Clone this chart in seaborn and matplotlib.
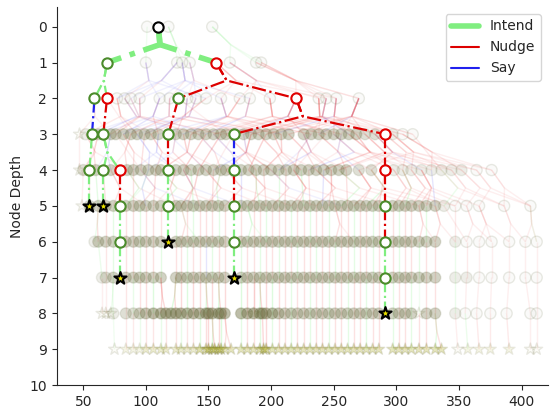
import numpy as np
import pandas as pd
import matplotlib
matplotlib.use('Agg')
import matplotlib.pyplot as plt
from matplotlib.lines import Line2D
import seaborn as sns

# ---- highlighted search paths (x position, depth, node kind, parent index, action of the edge) ----
hl_x = [110, 69, 156, 59, 69, 126, 220, 57, 66, 118, 170, 291, 55, 66, 79, 118, 170, 291,
        55, 66, 79, 118, 170, 291, 79, 118, 170, 291, 79, 170, 291, 291]
hl_depth = [0, 1, 1, 2, 2, 2, 2, 3, 3, 3, 3, 3, 4, 4, 4, 4, 4, 4,
            5, 5, 5, 5, 5, 5, 6, 6, 6, 6, 7, 7, 7, 8]
hl_kind = ['root', 'g', 'r', 'g', 'r', 'g', 'r', 'g', 'g', 'g', 'g', 'r', 'g', 'g', 'r', 'g', 'g', 'r',
           'star', 'star', 'g', 'g', 'g', 'g', 'g', 'star', 'g', 'g', 'star', 'star', 'g', 'star']
hl_parent = [-1, 0, 0, 1, 1, 2, 2, 3, 4, 5, 6, 6, 7, 8, 8, 9, 10, 11,
             12, 13, 14, 15, 16, 17, 20, 21, 22, 23, 24, 26, 27, 30]
hl_action = ['', 'I', 'I', 'I', 'I', 'N', 'N', 'S', 'N', 'N', 'N', 'N', 'I', 'I', 'I', 'N', 'S', 'N',
             'I', 'I', 'N', 'I', 'N', 'N', 'I', 'I', 'I', 'N', 'I', 'I', 'I', 'I']

# ---- background (faded) nodes per depth ----
# *_x: node positions, *_n: how many runs overlap at that node, *_par: x of parent one level up
bg0_x = [101, 118, 153]
bg0_n = '111'
bg1_x = [100, 125, 129, 135, 167, 188, 192]
bg1_n = '1111111'
bg1_par = [101, 118, 118, 118, 153, 153, 153]
bg1_act = 'IIIIIII'
bg2_x = [77, 83, 88, 95, 111, 119, 133, 140, 148, 160, 175, 183, 199, 238, 244, 252, 270]
bg2_n = '11111111111111111'
bg2_par = [100, 100, 125, 125, 129, 129, 135, 135, 156, 156, 167, 167, 167, 188, 188, 192, 192]
bg2_act = 'SNSNSNNSNNNNSNNNN'
bg3_x = [52, 62, 72, 76, 82, 88, 93, 99, 104, 110, 124, 130, 136, 142, 148, 154, 160, 164, 178,
         184, 190, 196, 202, 208, 214, 226, 232, 238, 244, 250, 256, 262, 268, 275, 283, 297, 305, 313]
bg3_n = '2444444444 4444444444 4444444444 44433211'
bg3_par = [77, 83, 88, 95, 111, 119, 77, 133, 140, 111, 148, 160, 175, 83, 183, 199, 95, 220, 220,
           238, 119, 244, 252, 133, 270, 220, 160, 270, 183, 252, 199, 244, 238, 270, 252, 270, 238, 270]
bg3_act = 'NSNNSNNSNNNSNNSNNNSNNNSNNNNSNNNSNNNNNN'
bg3_star = [47]
bg4_x = [50, 60, 72, 85, 90, 96, 102, 108, 112, 124, 130, 136, 142, 148, 154, 160, 164, 176,
         182, 188, 194, 200, 206, 212, 218, 224, 230, 236, 242, 248, 254, 260, 270, 280, 298, 305,
         312, 320, 328, 336, 344, 352, 364, 376]
bg4_n = '3444444444 4444444444 4444444444 4433222222 2211'
bg4_par = [52, 62, 72, 88, 82, 99, 93, 104, 130, 110, 148, 124, 160, 136, 178, 142, 184, 154,
           196, 164, 202, 184, 226, 190, 232, 208, 250, 214, 262, 226, 275, 238, 256, 283, 268, 291,
           297, 283, 305, 313, 291, 305, 283, 297]
bg4_act = 'NNSNNNSNNSNNNNSNNSNNNNSNNNSNNNNNSNNNNSNNNNNN'
bg4_star = [47]
bg5_x = [55, 62, 68, 74, 84, 90, 95, 100, 106, 112, 124, 128, 133, 138, 143, 148, 153, 158, 163,
         176, 181, 186, 191, 196, 201, 206, 211, 216, 221, 226, 231, 236, 241, 246, 251, 256, 261,
         266, 271, 276, 281, 286, 297, 302, 307, 312, 318, 324, 331, 338, 347, 356, 366, 386, 407]
bg5_n = '3444444444 4444444444 4444444444 4444444444 4444444442 11111'
bg5_act = 'NINNINNSNINNNINNNINSNNINNINNNINNSNNINNNINNNNINNNSINNNNN'
bg5_star = [49]
bg6_x = [59, 62, 68, 74, 84, 90, 95, 100, 106, 112, 124, 128, 133, 138, 143, 148, 153, 158, 163,
         176, 181, 186, 191, 196, 201, 206, 211, 216, 221, 226, 231, 236, 241, 246, 251, 256, 261,
         266, 271, 276, 281, 286, 297, 302, 307, 312, 318, 324, 331, 347, 356, 366, 376, 390, 403, 412]
bg6_n = '2444444444 4444444444 4444444444 4444444444 4444444442 111111'
bg6_act = 'INNINNINNNINNINNNINNINNINNNINNINNINNNINNINNINNNINNNNNNN'
bg7_x = [65, 68, 74, 84, 90, 95, 100, 106, 112, 124, 128, 133, 138, 143, 148, 153, 158, 163,
         176, 181, 186, 191, 196, 201, 206, 211, 216, 221, 226, 231, 236, 241, 246, 251, 256, 261,
         266, 271, 276, 281, 286, 297, 302, 307, 312, 318, 324, 331, 347, 356, 366, 376, 390, 403, 412]
bg7_n = '2344444444 4444444444 4444444444 4444444444 4444444422 11111'
bg7_act = 'ININNINNINNINNSINNINNINNINNINNINNINNINNINNINNINNINNNNNN'
bg8_x = [74, 84, 90, 95, 100, 106, 112, 116, 120, 124, 128, 133, 138, 143, 148, 150, 153, 158, 160,
         163, 176, 181, 186, 191, 193, 196, 201, 206, 211, 216, 221, 226, 231, 236, 241, 246, 251,
         256, 261, 266, 271, 276, 281, 286, 297, 302, 307, 312, 324, 331, 347, 355, 364, 375, 388, 407, 412]
bg8_n = '2334566666 6666666666 6666666544 4444444444 4444444444 2111111'
bg8_act = 'ININNINNINNINNINNINNINNINNINNINNINNINNINNINNINNINNINNNNNNNN'
bg8_star = [65, 68, 72, 186, 318]
bg9_star = [75, 84, 90, 95, 100, 106, 112, 116, 124, 128, 133, 138, 143, 148, 150, 153, 155, 158,
            160, 163, 168, 176, 181, 186, 191, 194, 196, 201, 206, 211, 216, 221, 226, 231, 236,
            241, 246, 251, 256, 261, 266, 271, 276, 281, 286, 297, 302, 307, 312, 318, 324, 331,
            336, 349, 357, 366, 375, 390, 407, 412]
bg9_n = '1222333333 3355666664 4444566444 4444444444 4444444444 4441222211'
bg9_act = 'INNINNINNINNINNINNINNINNINNINNINNINNINNINNINNINNINNINNINNNNNNN'

# extra cross links between runs: (child x, parent x, action)
bg2_extra = [(77, 125, 'S'), (95, 129, 'S'), (111, 100, 'S'), (119, 135, 'S'), (140, 125, 'S'),
             (160, 129, 'S'), (175, 135, 'N'), (199, 156, 'N'), (238, 167, 'N'), (252, 167, 'N'),
             (270, 188, 'N'), (244, 156, 'N'), (183, 129, 'S'), (148, 100, 'S'), (220, 192, 'N')]
bg3_extra = [(52, 95, 'S'), (62, 111, 'S'), (72, 59, 'N'), (76, 119, 'S'), (82, 133, 'S'),
             (88, 69, 'N'), (93, 140, 'S'), (99, 148, 'N'), (104, 77, 'N'), (110, 160, 'S'),
             (124, 175, 'N'), (130, 88, 'S'), (136, 183, 'N'), (142, 199, 'N'), (148, 111, 'S'),
             (154, 220, 'N'), (160, 238, 'N'), (164, 126, 'N'), (178, 244, 'N'), (184, 252, 'N'),
             (190, 140, 'S'), (196, 270, 'N'), (202, 160, 'N'), (208, 175, 'N'), (214, 199, 'N'),
             (226, 270, 'N'), (232, 244, 'N'), (238, 238, 'N'), (244, 220, 'N'), (250, 199, 'N'),
             (256, 270, 'N'), (262, 244, 'N'), (268, 252, 'N'), (275, 220, 'N'), (283, 238, 'N'),
             (297, 244, 'N'), (305, 252, 'N'), (313, 270, 'N')]
bg4_extra = [(50, 62, 'N'), (60, 72, 'S'), (72, 88, 'N'), (85, 52, 'N'), (90, 110, 'S'),
             (96, 76, 'N'), (102, 124, 'S'), (108, 82, 'N'), (112, 136, 'N'), (124, 93, 'S'),
             (130, 148, 'N'), (136, 104, 'N'), (142, 160, 'N'), (148, 118, 'S'), (154, 170, 'N'),
             (160, 130, 'N'), (164, 184, 'N'), (176, 142, 'S'), (182, 196, 'N'), (188, 154, 'N'),
             (194, 208, 'N'), (200, 164, 'N'), (206, 232, 'S'), (212, 178, 'N'), (218, 244, 'N'),
             (224, 190, 'N'), (230, 256, 'N'), (236, 202, 'N'), (242, 268, 'N'), (248, 214, 'N'),
             (254, 283, 'N'), (260, 226, 'N'), (270, 297, 'N'), (280, 238, 'N'), (298, 250, 'N'),
             (305, 262, 'N'), (312, 275, 'N'), (320, 250, 'N'), (328, 268, 'N'), (336, 283, 'N'),
             (344, 262, 'N'), (352, 275, 'N'), (364, 297, 'N'), (376, 305, 'N')]
bg5_extra = [(338, 298, 'N'), (347, 305, 'N'), (356, 312, 'N'), (366, 320, 'N'), (386, 336, 'N'),
             (407, 352, 'N'), (386, 344, 'N'), (407, 364, 'N'), (347, 280, 'N'), (331, 270, 'N'),
             (318, 254, 'N'), (297, 236, 'N'), (276, 218, 'N'), (256, 200, 'S'), (236, 182, 'N'),
             (216, 164, 'N'), (196, 148, 'N'), (176, 130, 'S'), (163, 112, 'N'), (143, 96, 'S'),
             (124, 85, 'N'), (100, 72, 'N'), (84, 102, 'I'), (106, 124, 'N'), (128, 142, 'N'),
             (148, 160, 'N')]
bg6_extra = [(347, 331, 'N'), (356, 338, 'N'), (376, 356, 'N'), (390, 366, 'N'), (403, 386, 'N'),
             (412, 407, 'N'), (331, 318, 'N'), (266, 251, 'N'), (196, 181, 'I'), (143, 128, 'I')]

bg_circles = {0: bg0_x, 1: bg1_x, 2: bg2_x, 3: bg3_x, 4: bg4_x, 5: bg5_x,
              6: bg6_x, 7: bg7_x, 8: bg8_x, 9: []}
bg_counts = {0: bg0_n, 1: bg1_n, 2: bg2_n, 3: bg3_n, 4: bg4_n, 5: bg5_n,
             6: bg6_n, 7: bg7_n, 8: bg8_n, 9: bg9_n}
bg_stars = {3: bg3_star, 4: bg4_star, 5: bg5_star, 8: bg8_star, 9: bg9_star}
bg_par = {1: bg1_par, 2: bg2_par, 3: bg3_par, 4: bg4_par}
bg_act = {1: bg1_act, 2: bg2_act, 3: bg3_act, 4: bg4_act, 5: bg5_act,
          6: bg6_act, 7: bg7_act, 8: bg8_act, 9: bg9_act}
bg_extra = {2: bg2_extra, 3: bg3_extra, 4: bg4_extra, 5: bg5_extra, 6: bg6_extra}

action_names = ['Intend', 'Nudge', 'Say']
action_colors = {'I': '#80ee80', 'N': '#dd0000', 'S': '#2020ee'}
bg_rgb = {'I': (0.3, 0.92, 0.3), 'N': (0.93, 0.2, 0.2), 'S': (0.3, 0.3, 0.95)}

# ---- build background table ----
rows = []
for d in range(10):
    xs = bg_circles.get(d, [])
    stars = bg_stars.get(d, [])
    counts = bg_counts.get(d, '').replace(' ', '')
    pars = bg_par.get(d)
    acts = bg_act.get(d, 'N')
    if d == 9:
        pts = [(x, '*') for x in stars]
    else:
        pts = [(x, 'o') for x in xs] + [(x, '*') for x in stars]
    for i, (x, m) in enumerate(pts):
        target = pars[i] if (pars is not None and i < len(pars)) else x
        n = int(counts[i]) if i < len(counts) else 1
        rows.append(dict(x=x, depth=d, marker=m, target=target, n=n, act=acts[i % len(acts)]))
bg = pd.DataFrame(rows)

hl = pd.DataFrame(dict(x=hl_x, depth=hl_depth, kind=hl_kind, parent=hl_parent, act=hl_action))
pool = pd.concat([bg[['x', 'depth']], hl[['x', 'depth']]], ignore_index=True)


def nearest(depth, target):
    cand = pool[pool.depth == depth].x.values
    return cand[np.argmin(np.abs(cand - target))]


edges = []
for _, r in bg[bg.depth > 0].iterrows():
    edges.append(dict(depth=r.depth, x=r.x, px=nearest(r.depth - 1, r.target), act=r.act, n=r.n))
for d, links in bg_extra.items():
    for cx, tx, a in links:
        edges.append(dict(depth=d, x=cx, px=nearest(d - 1, tx), act=a, n=1))
edges = pd.DataFrame(edges)

plt.figure(figsize=(5.58, 4.11), dpi=100)
sns.set_style('ticks')
ax = plt.gca()
plt.subplots_adjust(left=0.102, right=0.982, top=0.983, bottom=0.063)

# background edges drawn as forks: parent -> junction -> child
for (d, px), grp in edges.groupby(['depth', 'px']):
    jx = (px + grp.x.mean()) / 2
    for _, r in grp.iterrows():
        a = 0.06 + 0.02 * r.n
        ax.plot([px, jx, r.x], [d - 1, d - 0.5, d], color=bg_rgb[r.act] + (a,),
                lw=1.0, zorder=1, solid_capstyle='butt')

# background nodes: darker where many runs overlap
for m, base_face, base_edge, size in [('o', (0.45, 0.45, 0.28), (0.35, 0.38, 0.2), 64),
                                        ('*', (0.7, 0.7, 0.2), (0.35, 0.35, 0.15), 80)]:
    sub = bg[bg.marker == m]
    fa = np.where(sub.n > 1, 1 - 0.88 ** (sub.n - 1), 0.03)
    ea = np.where(sub.n > 1, 0.07 + 0.02 * sub.n, 0.13)
    fcs = [base_face + (a,) for a in fa]
    ecs = [base_edge + (a,) for a in ea]
    ax.scatter(sub.x, sub.depth, marker=m, s=size, facecolors=fcs, edgecolors=ecs,
               linewidths=1, zorder=2)

# highlighted edges
for p, grp in hl[hl.parent >= 0].groupby('parent'):
    px, py = hl_x[p], hl_depth[p]
    jx = (px + grp.x.mean()) / 2
    for _, r in grp.iterrows():
        lw = 4 if p == 0 else 1.6
        ax.plot([px, jx, r.x], [py, py + 0.5, r.depth], color=action_colors[r.act],
                lw=lw, ls='-.', zorder=3)

# highlighted nodes
styles = {'root': ('o', 'white', 'black', 55),
          'g': ('o', 'white', '#4b8b2b', 55),
          'r': ('o', 'white', '#e00000', 55),
          'star': ('*', '#e8e000', 'black', 85)}
for kind, (m, fc, ec, s) in styles.items():
    sub = hl[hl.kind == kind]
    sns.scatterplot(data=sub, x='x', y='depth', marker=m, color=fc, edgecolor=ec,
                    linewidth=1.5, s=s, zorder=4, ax=ax, legend=False)

handles = [Line2D([0], [0], color=action_colors['I'], lw=4),
           Line2D([0], [0], color=action_colors['N'], lw=1.5),
           Line2D([0], [0], color=action_colors['S'], lw=1.5)]
ax.legend(handles, action_names, loc='upper right', fontsize=10)

ax.set_xlim(29, 421)
ax.set_ylim(10, -0.55)
ax.set_yticks(range(11))
ax.set_xticks(range(50, 401, 50))
ax.set_xlabel('')
ax.set_ylabel('Node Depth')
sns.despine(ax=ax)

plt.savefig('out.png', dpi=100)
